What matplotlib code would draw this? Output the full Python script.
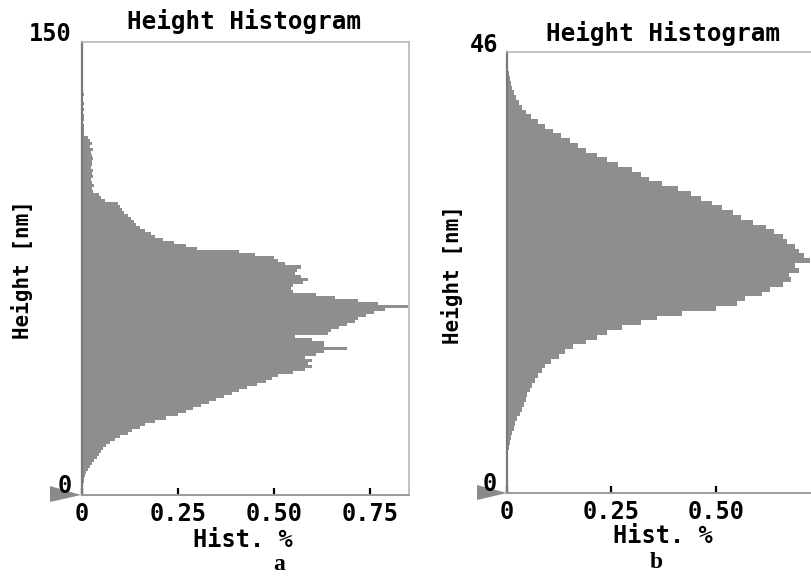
import numpy as np
import matplotlib
matplotlib.use("Agg")
import matplotlib.pyplot as plt
from matplotlib.patches import Polygon

# histogram a: 1 nm bins from 0 to 150 nm, values in Hist. %
bins_a = [
    0.0, 0.0, 0.001, 0.003, 0.004, 0.005, 0.008, 0.011, 0.015, 0.02,
    0.026, 0.032, 0.038, 0.045, 0.05, 0.056, 0.062, 0.073, 0.085, 0.10,
    0.12, 0.13, 0.15, 0.165, 0.19, 0.22, 0.25, 0.27, 0.29, 0.31,
    0.33, 0.35, 0.37, 0.39, 0.41, 0.43, 0.455, 0.48, 0.495, 0.51,
    0.55, 0.58, 0.60, 0.59, 0.60, 0.58, 0.61, 0.63, 0.69, 0.63,
    0.63, 0.60, 0.555, 0.64, 0.65, 0.67, 0.69, 0.71, 0.72, 0.74,
    0.76, 0.79, 0.85, 0.77, 0.72, 0.66, 0.61, 0.55, 0.545, 0.55,
    0.575, 0.59, 0.57, 0.555, 0.56, 0.57, 0.53, 0.51, 0.50, 0.45,
    0.41, 0.30, 0.27, 0.24, 0.21, 0.19, 0.18, 0.165, 0.15, 0.14,
    0.135, 0.128, 0.12, 0.11, 0.105, 0.10, 0.095, 0.06, 0.05, 0.045,
    0.028, 0.025, 0.03, 0.027, 0.024, 0.029, 0.026, 0.028, 0.023, 0.027,
    0.025, 0.029, 0.026, 0.024, 0.028, 0.022, 0.025, 0.02, 0.016, 0.006,
    0.005, 0.004, 0.005, 0.003, 0.004, 0.005, 0.003, 0.004, 0.003, 0.004,
    0.003, 0.003, 0.004, 0.002, 0.003, 0.003, 0.002, 0.003, 0.002, 0.002,
    0.002, 0.002, 0.001, 0.002, 0.001, 0.001, 0.001, 0.001, 0.0005, 0.0005,
]
step_a = 1.0
top_a = 150

# histogram b: 0.5 nm bins from 0 to 46 nm
bins_b = [
    0.0, 0.0, 0.0, 0.0, 0.0, 0.001, 0.002, 0.002, 0.003, 0.005,
    0.007, 0.009, 0.011, 0.017, 0.02, 0.025, 0.03, 0.035, 0.04, 0.046,
    0.049, 0.055, 0.06, 0.066, 0.075, 0.083, 0.09, 0.105, 0.125, 0.14,
    0.158, 0.19, 0.215, 0.24, 0.275, 0.32, 0.36, 0.42, 0.50, 0.55,
    0.57, 0.61, 0.63, 0.66, 0.68, 0.675, 0.70, 0.69, 0.725, 0.71,
    0.70, 0.69, 0.67, 0.66, 0.64, 0.62, 0.59, 0.56, 0.54, 0.515,
    0.49, 0.465, 0.44, 0.41, 0.37, 0.34, 0.32, 0.30, 0.265, 0.24,
    0.215, 0.19, 0.17, 0.15, 0.13, 0.11, 0.09, 0.075, 0.058, 0.045,
    0.035, 0.028, 0.022, 0.017, 0.013, 0.01, 0.007, 0.005, 0.003, 0.002,
    0.001, 0.0005,
]
step_b = 0.5
top_b = 46

xticks_a = [0, 0.25, 0.50, 0.75]
xticks_b = [0, 0.25, 0.50]
xtick_labels_a = ["0", "0.25", "0.50", "0.75"]
xtick_labels_b = ["0", "0.25", "0.50"]

W, H = 811, 576
MONO = "DejaVu Sans Mono"
FILL = "#8e8e8e"

fig = plt.figure(figsize=(W / 100, H / 100), dpi=100)


def px(x, y):
    # pixel position (from top-left) -> figure fraction
    return x / W, 1 - y / H


def panel(rect, bins, step, top, xmax, ticks, ticklabels):
    ax = fig.add_axes(rect)
    edges = np.arange(len(bins)) * step
    ax.barh(edges, bins, height=step, align="edge", color=FILL,
            linewidth=0, antialiased=False)
    ax.set_xlim(0, xmax)
    ax.set_ylim(0, top)
    ax.set_yticks([])
    ax.set_xticks(ticks)
    ax.set_xticklabels(ticklabels, fontfamily=MONO, fontweight="bold",
                       fontsize=17)
    ax.tick_params(axis="x", direction="in", length=5, width=1.6,
                   color="black", pad=5)
    ax.spines["left"].set_color("#7a7a7a")
    ax.spines["left"].set_linewidth(1.6)
    ax.spines["bottom"].set_color("#9a9a9a")
    ax.spines["bottom"].set_linewidth(1.4)
    for s in ("top", "right"):
        ax.spines[s].set_color("#b5b5b5")
        ax.spines[s].set_linewidth(1.2)
    return ax


ax_a = panel([82 / W, 81 / H, 327 / W, 453 / H], bins_a, step_a, top_a,
             0.852, xticks_a, xtick_labels_a)
ax_b = panel([507 / W, 83 / H, 310 / W, 441 / H], bins_b, step_b, top_b,
             0.742, xticks_b, xtick_labels_b)

txt = dict(fontfamily=MONO, fontweight="bold", ha="center", va="center",
           transform=fig.transFigure)

# titles
fig.text(*px(244, 22), "Height Histogram", fontsize=17.5, **txt)
fig.text(*px(663, 33), "Height Histogram", fontsize=17.5, **txt)

# y range labels
fig.text(*px(50, 34), "150", fontsize=17, **txt)
fig.text(*px(65, 486), "0", fontsize=17, **txt)
fig.text(*px(484, 45), "46", fontsize=17, **txt)
fig.text(*px(490, 484), "0", fontsize=17, **txt)

# axis labels
fig.text(*px(243, 540), "Hist. %", fontsize=17, **txt)
fig.text(*px(663, 536), "Hist. %", fontsize=17, **txt)
fig.text(*px(22, 270), "Height [nm]", fontsize=15, rotation=90, **txt)
fig.text(*px(452, 275), "Height [nm]", fontsize=15, rotation=90, **txt)

# panel letters
fig.text(*px(279, 564), "a", fontsize=17, fontfamily="Liberation Serif",
         fontweight="bold", ha="center", va="center")
fig.text(*px(656, 563), "b", fontsize=17, fontfamily="Liberation Serif",
         fontweight="bold", ha="center", va="center")

# grey origin markers
for tri in ([(50, 486), (50, 502), (81, 495)],
            [(477, 485), (477, 500), (507, 493)]):
    pts = [px(x, y) for x, y in tri]
    fig.patches.append(Polygon(pts, closed=True, transform=fig.transFigure,
                               facecolor="#8a8a8a", edgecolor="none",
                               zorder=0))

fig.savefig("out.png", dpi=100)
